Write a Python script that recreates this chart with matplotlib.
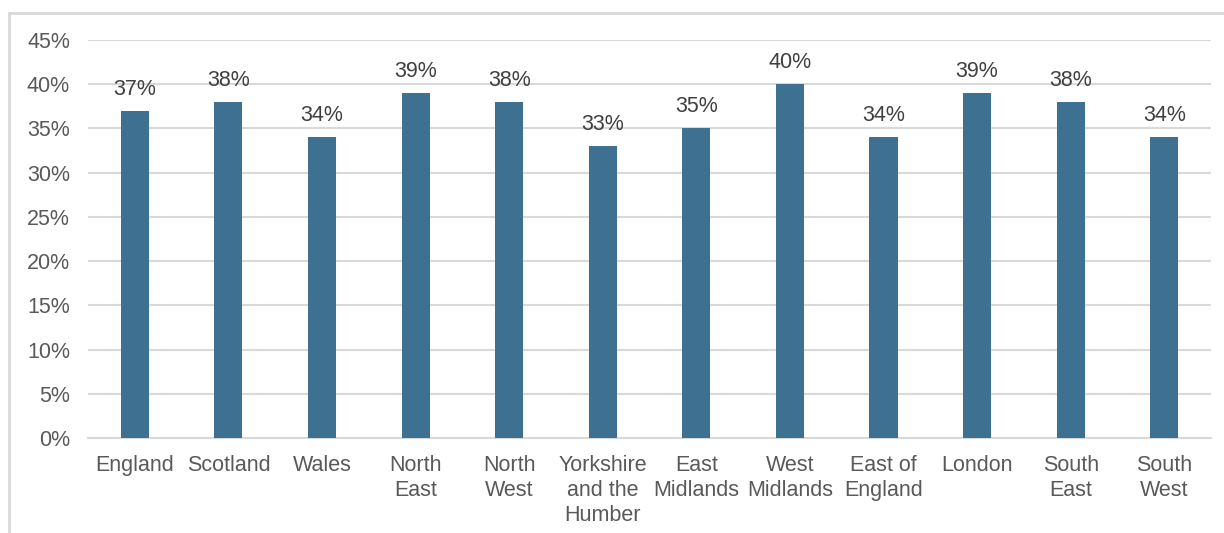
import matplotlib.pyplot as plt
from matplotlib.patches import Rectangle
from matplotlib.ticker import PercentFormatter

regions = ["England", "Scotland", "Wales", "North\nEast", "North\nWest",
           "Yorkshire\nand the\nHumber", "East\nMidlands", "West\nMidlands",
           "East of\nEngland", "London", "South\nEast", "South\nWest"]
share = [37, 38, 34, 39, 38, 33, 35, 40, 34, 39, 38, 34]
yticks = list(range(0, 50, 5))

bar_color = "#3E7191"
text_color = "#595959"
grid_color = "#D9D9D9"

plt.rcParams["font.family"] = ["Liberation Sans", "DejaVu Sans"]

fig = plt.figure(figsize=(12.24, 5.33), dpi=100)
ax = fig.add_axes([0.0719, 0.178, 0.9175, 0.747])

x = range(len(regions))
bars = ax.bar(x, share, width=0.3, color=bar_color, zorder=3)

for rect, v in zip(bars, share):
    ax.annotate(f"{v}%", (rect.get_x() + rect.get_width() / 2, v),
                xytext=(0, 8), textcoords="offset points",
                ha="center", va="bottom", fontsize=15.5, color="#404040")

ax.set_xlim(-0.5, len(regions) - 0.5)
ax.set_ylim(0, 45)
ax.set_yticks(yticks)
ax.yaxis.set_major_formatter(PercentFormatter(decimals=0))
ax.set_xticks(list(x))
ax.set_xticklabels(regions, linespacing=1.25)
ax.tick_params(axis="both", length=0, labelsize=15.5, colors=text_color)
ax.tick_params(axis="y", pad=13)
ax.tick_params(axis="x", pad=12)

ax.grid(axis="y", color=grid_color, linewidth=1.5, zorder=0)
for side in ["left", "right", "top"]:
    ax.spines[side].set_visible(False)
ax.spines["bottom"].set_color(grid_color)
ax.spines["bottom"].set_linewidth(1.5)

# light frame around the chart, running off the right and bottom edges
fig.patches.append(Rectangle((9 / 1224, -0.1), 1.2, 1.0756,
                             transform=fig.transFigure, fill=False,
                             edgecolor=grid_color, linewidth=2))

fig.savefig("out.png", dpi=100)
